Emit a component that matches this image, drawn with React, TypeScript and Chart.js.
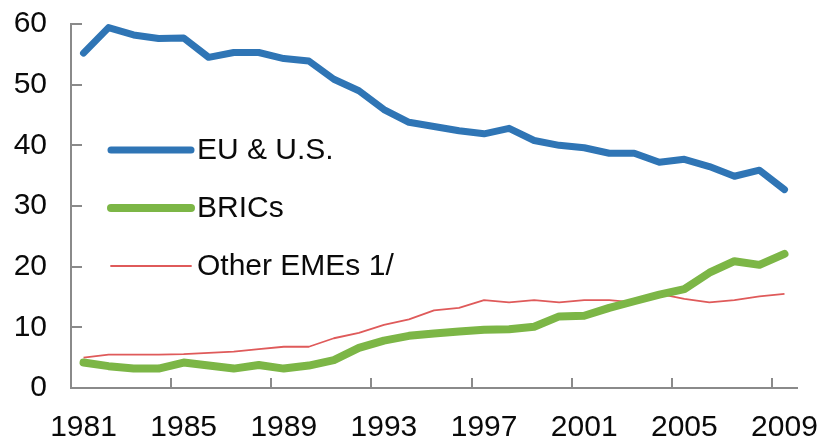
import React, { useEffect, useRef } from "react";
import { Chart, registerables } from "chart.js";

Chart.register(...registerables);

const years: string[] = [
  "1981", "1982", "1983", "1984", "1985", "1986", "1987", "1988", "1989", "1990",
  "1991", "1992", "1993", "1994", "1995", "1996", "1997", "1998", "1999", "2000",
  "2001", "2002", "2003", "2004", "2005", "2006", "2007", "2008", "2009",
];

const euUS: number[] = [
  55.2, 59.4, 58.2, 57.6, 57.7, 54.5, 55.3, 55.3, 54.3, 53.9,
  50.9, 49.0, 45.9, 43.8, 43.1, 42.4, 41.9, 42.8, 40.8, 40.0,
  39.6, 38.7, 38.7, 37.2, 37.7, 36.5, 34.9, 35.9, 32.7,
];

const brics: number[] = [
  4.2, 3.6, 3.2, 3.2, 4.2, 3.7, 3.2, 3.8, 3.2, 3.7,
  4.6, 6.6, 7.8, 8.6, 9.0, 9.3, 9.6, 9.7, 10.1, 11.8,
  11.9, 13.2, 14.3, 15.4, 16.3, 19.0, 20.9, 20.3, 22.1,
];

const otherEMEs: number[] = [
  5.0, 5.5, 5.5, 5.5, 5.6, 5.8, 6.0, 6.4, 6.8, 6.8,
  8.2, 9.1, 10.4, 11.3, 12.8, 13.2, 14.5, 14.1, 14.5, 14.1,
  14.5, 14.5, 14.1, 15.5, 14.7, 14.1, 14.5, 15.1, 15.5,
];

const seriesNames: string[] = ["EU & U.S.", "BRICs", "Other EMEs 1/"];
const yTicks: number[] = [0, 10, 20, 30, 40, 50, 60];

const FONT = "'Liberation Sans', Arial, sans-serif";
const AXIS_COLOR = "#8a8a8a";
const TEXT_COLOR = "#0a0a0a";

const innerTicks = {
  id: "innerTicks",
  afterDatasetsDraw(chart: any) {
    const { ctx, chartArea, scales } = chart;
    const x = scales.x;
    const y = scales.y;
    ctx.save();
    ctx.strokeStyle = AXIS_COLOR;
    ctx.lineWidth = 2;
    ctx.beginPath();
    for (const v of yTicks) {
      const py = Math.round(y.getPixelForValue(v));
      ctx.moveTo(chartArea.left, py);
      ctx.lineTo(chartArea.left + 11, py);
    }
    const half = (x.getPixelForValue(1) - x.getPixelForValue(0)) / 2;
    for (let i = 4; i < years.length; i += 4) {
      const px = Math.round(x.getPixelForValue(i) - half);
      ctx.moveTo(px, chartArea.bottom);
      ctx.lineTo(px, chartArea.bottom - 10);
    }
    ctx.stroke();
    ctx.restore();
  },
};

const insideLegend = {
  id: "insideLegend",
  afterDraw(chart: any) {
    const { ctx, chartArea } = chart;
    const rows = [150, 208, 266];
    ctx.save();
    chart.data.datasets.forEach((ds: any, i: number) => {
      const yy = rows[i];
      ctx.beginPath();
      ctx.strokeStyle = ds.borderColor;
      ctx.lineWidth = ds.borderWidth;
      ctx.lineCap = "round";
      ctx.moveTo(chartArea.left + 40, yy);
      ctx.lineTo(chartArea.left + 120, yy);
      ctx.stroke();
      ctx.fillStyle = TEXT_COLOR;
      ctx.font = `30px ${FONT}`;
      ctx.textBaseline = "middle";
      ctx.textAlign = "left";
      ctx.fillText(ds.label, chartArea.left + 126, yy + 1);
    });
    ctx.restore();
  },
};

export default function App() {
  const canvasRef = useRef<HTMLCanvasElement | null>(null);

  useEffect(() => {
    if (!canvasRef.current) return;
    const chart = new Chart(canvasRef.current, {
      type: "line",
      data: {
        labels: years,
        datasets: [
          {
            label: seriesNames[0],
            data: euUS,
            borderColor: "#2f75b5",
            borderWidth: 7,
            pointRadius: 0,
            borderJoinStyle: "round",
            borderCapStyle: "round",
            tension: 0,
          },
          {
            label: seriesNames[1],
            data: brics,
            borderColor: "#7cb646",
            borderWidth: 8,
            pointRadius: 0,
            borderJoinStyle: "round",
            borderCapStyle: "round",
            tension: 0,
          },
          {
            label: seriesNames[2],
            data: otherEMEs,
            borderColor: "#df5a5a",
            borderWidth: 1.8,
            pointRadius: 0,
            borderJoinStyle: "round",
            tension: 0,
          },
        ],
      },
      plugins: [innerTicks, insideLegend],
      options: {
        animation: false,
        responsive: false,
        maintainAspectRatio: false,
        layout: { padding: { top: 24, right: 21, bottom: 0, left: 0 } },
        plugins: {
          legend: { display: false },
          tooltip: { enabled: false },
        },
        scales: {
          x: {
            type: "category",
            offset: true,
            grid: { display: true, drawOnChartArea: false, drawTicks: false, offset: true },
            border: { display: true, color: AXIS_COLOR, width: 2 },
            ticks: {
              autoSkip: false,
              maxRotation: 0,
              minRotation: 0,
              padding: 22,
              color: TEXT_COLOR,
              font: { family: FONT, size: 30 },
              callback: (_v: any, i: number) => (i % 4 === 0 ? years[i] : null),
            },
            afterFit: (s: any) => {
              s.height = 55;
              s.paddingLeft = 0;
              s.paddingRight = 0;
            },
          },
          y: {
            min: 0,
            max: 60,
            grid: { display: true, drawOnChartArea: false, drawTicks: false },
            border: { display: true, color: AXIS_COLOR, width: 2 },
            ticks: {
              stepSize: 10,
              padding: 24,
              color: TEXT_COLOR,
              font: { family: FONT, size: 30 },
            },
            afterFit: (s: any) => {
              s.width = 71;
              s.paddingTop = 0;
              s.paddingBottom = 0;
            },
          },
        },
      },
    });
    return () => chart.destroy();
  }, []);

  return (
    <div style={{ position: "fixed", left: 0, top: 0, width: 818, height: 443, background: "#ffffff" }}>
      <canvas ref={canvasRef} width={818} height={443} style={{ width: 818, height: 443 }} />
    </div>
  );
}
